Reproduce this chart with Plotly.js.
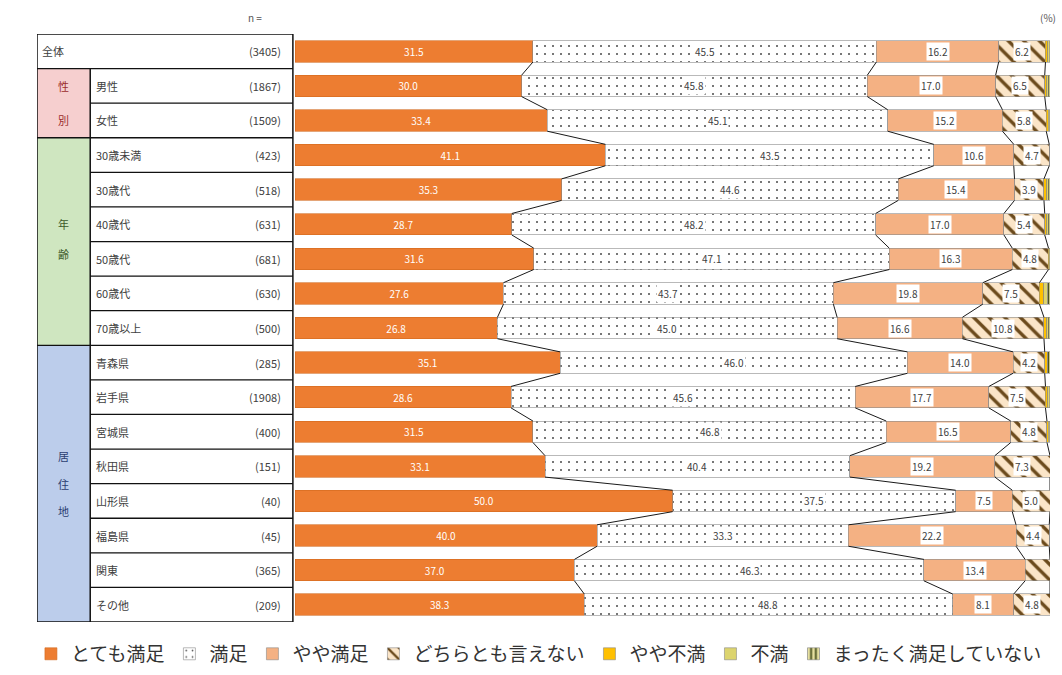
<!DOCTYPE html>
<html><head><meta charset="utf-8">
<script src="https://cdn.plot.ly/plotly-3.0.1.min.js"></script>
<style>html,body{margin:0;padding:0;background:#fff}#c{width:1062px;height:675px}</style>
</head><body><div id="c"></div>
<script>
const categories = ['全体','男性','女性','30歳未満','30歳代','40歳代','50歳代','60歳代','70歳以上','青森県','岩手県','宮城県','秋田県','山形県','福島県','関東','その他'];
const nCounts = [3405,1867,1509,423,518,631,681,630,500,285,1908,400,151,40,45,365,209];
const seriesNames = ['とても満足','満足','やや満足','どちらとも言えない','やや不満','不満','まったく満足していない'];
const verySatisfied = [31.5,30.0,33.4,41.1,35.3,28.7,31.6,27.6,26.8,35.1,28.6,31.5,33.1,50.0,40.0,37.0,38.3];
const satisfied     = [45.5,45.8,45.1,43.5,44.6,48.2,47.1,43.7,45.0,46.0,45.6,46.8,40.4,37.5,33.3,46.3,48.8];
const somewhatSat   = [16.2,17.0,15.2,10.6,15.4,17.0,16.3,19.8,16.6,14.0,17.7,16.5,19.2,7.5,22.2,13.4,8.1];
const neither       = [6.2,6.5,5.8,4.7,3.9,5.4,4.8,7.5,10.8,4.2,7.5,4.8,7.3,5.0,4.4,3.3,4.8];
const somewhatDis   = [0.3,0.3,0.3,0.0,0.4,0.3,0.1,0.6,0.4,0.4,0.3,0.2,0.0,0.0,0.0,0.0,0.0];
const dissatisfied  = [0.2,0.2,0.1,0.0,0.2,0.2,0.1,0.5,0.2,0.0,0.2,0.1,0.0,0.0,0.0,0.0,0.0];
const notAtAll      = [0.1,0.2,0.1,0.0,0.2,0.2,0.0,0.3,0.2,0.3,0.1,0.1,0.0,0.0,0.0,0.0,0.0];
const groups = [
  {chars:['性','別'], first:1, last:2, fill:'#F6CFCF', color:'#9b2d2d'},
  {chars:['年','齢'], first:3, last:8, fill:'#CFE6C0', color:'#3d5a2a'},
  {chars:['居','住','地'], first:9, last:16, fill:'#BCCDEB', color:'#2b3d70'}
];

const FONT = '"Noto Sans CJK JP", "Noto Sans", sans-serif';
const yIdx = categories.map((_, i) => i);
const seriesData = [verySatisfied, satisfied, somewhatSat, neither, somewhatDis, dissatisfied, notAtAll];
const BW = 0.62;
const lineStyle = {color:'#8a8a8a', width:0.6};

const markers = [
  {color:'#ED7D31', line:{color:'#D2691E', width:0.6}},
  {color:'#ffffff', line:lineStyle, pattern:{shape:'.', fgcolor:'#4a4a4a', bgcolor:'#ffffff', size:8, solidity:0.05}},
  {color:'#F4B183', line:lineStyle},
  {color:'#ffffff', line:lineStyle, pattern:{shape:'\\', fgcolor:'#6b4a1c', bgcolor:'#FBE5C8', size:11, solidity:0.3}},
  {color:'#FFC000', line:lineStyle},
  {color:'#DCD46E', line:lineStyle},
  {color:'#ffffff', line:lineStyle, pattern:{shape:'|', fgcolor:'#4a5220', bgcolor:'#E6DFA0', size:6, solidity:0.4}}
];

const traces = seriesData.map((vals, k) => ({
  type:'bar', orientation:'h', name:seriesNames[k],
  x: vals, y: yIdx, width: BW,
  marker: markers[k],
  text: vals.map(v => (k === 0) ? v.toFixed(1) : ''),
  textposition:'inside', insidetextanchor:'middle', textangle:0, constraintext:'none',
  textfont:{family:FONT, size:10, color:'#ffffff'},
  hoverinfo:'skip'
}));

// connector lines between bars + label positions
const cx = [], cy = [];
const annotations = [];
let cum = categories.map(() => 0);
for (let k = 0; k < 4; k++) {
  const prev = cum.slice();
  cum = cum.map((c, i) => c + seriesData[k][i]);
  for (let i = 0; i < categories.length - 1; i++) {
    cx.push(cum[i], cum[i+1], null);
    cy.push(i + BW/2, i + 1 - BW/2, null);
  }
  if (k > 0) {
    categories.forEach((_, i) => {
      const v = seriesData[k][i];
      if (v < 3.5) return;
      annotations.push({xref:'x', yref:'y', x:(prev[i] + cum[i]) / 2, y:i, text:v.toFixed(1), showarrow:false,
        xanchor:'center', yanchor:'middle', bgcolor:'#ffffff', borderpad:1,
        font:{family:FONT, size:10, color:'#404040'}});
    });
  }
}
traces.push({type:'scatter', mode:'lines', x:cx, y:cy, line:{color:'#1a1a1a', width:1}, showlegend:false, hoverinfo:'skip'});

// table geometry (data units on x: 0 = start of bars)
const TL = -34.2, TM = -27.15, TR = -0.3;
const shapes = [];
groups.forEach(g => {
  shapes.push({type:'rect', xref:'x', yref:'y', x0:TL, x1:TM, y0:g.first-0.5, y1:g.last+0.5, fillcolor:g.fill, line:{width:0}, layer:'below'});
});
shapes.push({type:'rect', xref:'x', yref:'y', x0:TL, x1:TR, y0:-0.5, y1:categories.length-0.5, line:{color:'#111', width:1.5}});
shapes.push({type:'line', xref:'x', yref:'y', x0:TM, x1:TM, y0:0.5, y1:categories.length-0.5, line:{color:'#111', width:1.5}});
const groupBounds = [0.5, 2.5, 8.5];
for (let i = 0; i < categories.length - 1; i++) {
  const yb = i + 0.5;
  const full = groupBounds.includes(yb);
  shapes.push({type:'line', xref:'x', yref:'y', x0: full ? TL : TM, x1:TR, y0:yb, y1:yb, line:{color:'#111', width:1.3}});
}
categories.forEach((c, i) => {
  annotations.push({xref:'x', yref:'y', x: i === 0 ? -33.8 : -26.6, y:i, text:c, showarrow:false, xanchor:'left', yanchor:'middle', font:{family:FONT, size:11, color:'#404040'}});
  annotations.push({xref:'x', yref:'y', x:-1.6, y:i, text:'(' + nCounts[i] + ')', showarrow:false, xanchor:'right', yanchor:'middle', font:{family:FONT, size:11, color:'#404040'}});
});
const charPos = [[1,2],[5.0,5.87],[11.7,12.5,13.3]];
groups.forEach((g, gi) => {
  g.chars.forEach((ch, j) => {
    annotations.push({xref:'x', yref:'y', x:(TL+TM)/2, y:charPos[gi][j], text:ch, showarrow:false, xanchor:'center', yanchor:'middle', font:{family:FONT, size:11, color:g.color}});
  });
});
annotations.push({xref:'x', yref:'paper', x:-5.3, y:1.028, text:'n =', showarrow:false, xanchor:'center', yanchor:'middle', font:{family:FONT, size:10, color:'#555'}});
annotations.push({xref:'paper', yref:'paper', x:1.008, y:1.028, text:'(%)', showarrow:false, xanchor:'right', yanchor:'middle', font:{family:FONT, size:10, color:'#555'}});

const layout = {
  width:1062, height:675,
  margin:{l:37, r:12, t:34, b:53, autoexpand:false},
  paper_bgcolor:'#ffffff', plot_bgcolor:'rgba(0,0,0,0)',
  barmode:'stack',
  font:{family:FONT, color:'#333'},
  xaxis:{range:[-34.2, 100], visible:false, fixedrange:true},
  yaxis:{range:[categories.length-0.5, -0.5], visible:false, fixedrange:true},
  showlegend:true,
  legend:{orientation:'h', x:-0.006, xanchor:'left', y:-0.022, yanchor:'top', traceorder:'normal',
          font:{family:FONT, size:19, color:'#333'}, itemwidth:30, tracegroupgap:0, bgcolor:'rgba(0,0,0,0)'},
  shapes:shapes, annotations:annotations
};
Plotly.newPlot('c', traces, layout, {displayModeBar:false, staticPlot:true});
</script>
</body></html>
